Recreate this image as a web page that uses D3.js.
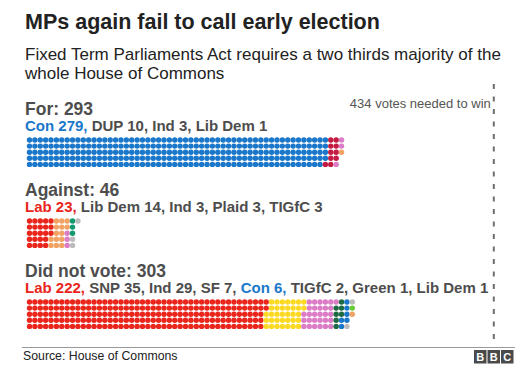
<!DOCTYPE html>
<html>
<head>
<meta charset="utf-8">
<script src="https://cdnjs.cloudflare.com/ajax/libs/d3/7.8.5/d3.min.js"></script>
<style>
    body { margin: 0; background: #fff; }
    svg { display: block; font-family: "Liberation Sans", Arial, Helvetica, sans-serif; }
</style>
</head>
<body>
<div class="paint"></div>
<script>
// groups
var groupNames = ["For", "Against", "Did not vote"];
// parties in each group, in the order the dots are filled
var forParties = ["Con", "DUP", "Ind", "Lib Dem"];
var forSeats = [279, 10, 3, 1];
var againstParties = ["Lab", "Lib Dem", "Ind", "Plaid", "TIGfC"];
var againstSeats = [23, 14, 3, 3, 3];
var dnvParties = ["Lab", "SNP", "Ind", "SF", "Con", "TIGfC", "Green", "Lib Dem"];
var dnvSeats = [222, 35, 29, 7, 6, 2, 1, 1];
var partyKeys = ["Con", "Lab", "DUP", "Ind", "Lib Dem", "Plaid", "TIGfC", "SNP", "SF", "Green"];
var partyColours = ["#1a77c9", "#e9251c", "#c31b41", "#dc7cc6", "#f2a263", "#13996f", "#bcbcbc", "#fcd923", "#1d6a43", "#66cc33"];
var votesNeeded = 434;

var main;
(function (main) {
    var W = 520, H = 373;
    var ROWS = 5;
    var textGrey = "#4d4d4d";

    function ini() {
        var colour = d3.scaleOrdinal().domain(partyKeys).range(partyColours);
        var groups = [
            { name: groupNames[0], parties: forParties, seats: forSeats },
            { name: groupNames[1], parties: againstParties, seats: againstSeats },
            { name: groupNames[2], parties: dnvParties, seats: dnvSeats }
        ];

        // column -> x (dot centre), row -> y offset, group -> header baseline
        var x = d3.scaleLinear().domain([0, 100]).range([29.5, 29.5 + 538]);
        var colW = x(1) - x(0);
        var rowY = d3.scaleLinear().domain([0, ROWS]).range([0, ROWS * 6.1]);
        var groupY = d3.scaleLinear().domain([0, 1]).range([115, 196]);

        var svg = d3.select(".paint").append("svg")
            .attr("width", W).attr("height", H);

        svg.append("text")
            .attr("x", 25).attr("y", 29)
            .attr("font-size", 21.5).attr("font-weight", "bold").attr("fill", "#222")
            .text("MPs again fail to call early election");
        svg.append("text")
            .attr("x", 25).attr("y", 60)
            .attr("font-size", 17).attr("fill", "#222")
            .text("Fixed Term Parliaments Act requires a two thirds majority of the");
        svg.append("text")
            .attr("x", 25).attr("y", 79)
            .attr("font-size", 17).attr("fill", "#222")
            .text("whole House of Commons");

        // line for the votes needed
        var lineX = x(votesNeeded / ROWS) - colW / 2;
        svg.append("line")
            .attr("x1", lineX).attr("x2", lineX)
            .attr("y1", 84).attr("y2", 345)
            .attr("stroke", "#6e6e6e").attr("stroke-width", 2)
            .attr("stroke-dasharray", "5,7.5");
        svg.append("text")
            .attr("x", lineX - 3).attr("y", 108)
            .attr("text-anchor", "end")
            .attr("font-size", 13).attr("fill", "#555")
            .text(votesNeeded + " votes needed to win");

        var gGroup = svg.selectAll(".group").data(groups).enter().append("g")
            .classed("group", true);

        gGroup.each(function (d, i) {
            var _g = d3.select(this);
            var top = groupY(i);
            var total = d3.sum(d.seats);

            _g.append("text")
                .attr("x", 25).attr("y", top)
                .attr("font-size", 17.5).attr("font-weight", "bold").attr("fill", textGrey)
                .text(d.name + ": " + total);

            var sub = _g.append("text")
                .attr("x", 25).attr("y", top + 15.5)
                .attr("font-size", 15).attr("font-weight", "bold");
            d.parties.forEach(function (p, j) {
                var last = j === d.parties.length - 1;
                sub.append("tspan")
                    .attr("fill", (p === "Con" || p === "Lab") ? colour(p) : textGrey)
                    .text(p + " " + d.seats[j] + (last ? "" : ", "));
            });

            // one dot per MP, filled down each column
            var dots = [];
            d.parties.forEach(function (p, j) {
                for (var k = 0; k < d.seats[j]; k++) dots.push(p);
            });
            var gridTop = top + 25;
            _g.selectAll(".dot").data(dots).enter().append("circle")
                .classed("dot", true)
                .attr("cx", function (p, n) { return x(Math.floor(n / ROWS)); })
                .attr("cy", function (p, n) { return gridTop + rowY(n % ROWS); })
                .attr("r", 2.7)
                .attr("fill", function (p) { return colour(p); });
        });

        // footer
        svg.append("line")
            .attr("x1", 22).attr("x2", 515)
            .attr("y1", 347.5).attr("y2", 347.5)
            .attr("stroke", "#999").attr("stroke-width", 1);
        svg.append("text")
            .attr("x", 23).attr("y", 360)
            .attr("font-size", 12.3).attr("fill", "#222")
            .text("Source: House of Commons");

        var logo = svg.append("g").attr("transform", "translate(474,350)");
        logo.selectAll("rect").data(["B", "B", "C"]).enter().append("rect")
            .attr("x", function (d, i) { return i * 13.5; })
            .attr("width", 12.5).attr("height", 13.5)
            .attr("fill", "#4a4a4a");
        logo.selectAll("text").data(["B", "B", "C"]).enter().append("text")
            .attr("x", function (d, i) { return i * 13.5 + 6.25; })
            .attr("y", 11.2)
            .attr("text-anchor", "middle")
            .attr("font-size", 11).attr("font-weight", "bold").attr("fill", "#fff")
            .text(function (d) { return d; });
    }
    main.ini = ini;
})(main || (main = {}));
main.ini();
</script>
</body>
</html>
